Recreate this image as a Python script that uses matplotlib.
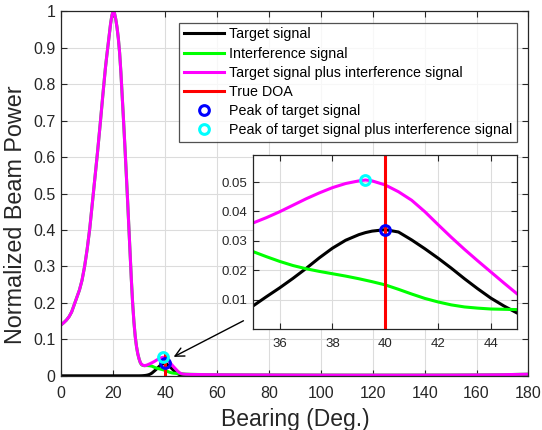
import matplotlib
matplotlib.use("Agg")
import matplotlib.pyplot as plt

plt.rcParams['font.family'] = ['Liberation Sans', 'DejaVu Sans']

# ---------------- data ----------------
bearing = [0, 1, 2, 3, 4, 5, 6, 7, 8, 9, 10, 11, 12, 13, 14, 15, 16, 17,
           17.5, 18, 18.5, 19, 19.5, 20,
           20.5, 21, 21.5, 22, 22.5, 23, 23.5, 24, 24.5, 25,
           25.5, 26, 26.5, 27, 27.5, 28, 28.5, 29, 29.5, 30,
           30.5, 31, 31.5, 32, 32.5, 33, 33.5, 34, 34.5,
           35, 35.5, 36, 36.5, 37, 37.5, 38, 38.5, 39, 39.25, 39.5, 40,
           40.5, 41, 41.5, 42, 42.5, 43, 43.5, 44, 44.5, 45,
           45.5, 46, 46.5, 47, 48,
           50, 55, 60,
           70, 80, 90, 100, 110, 120, 130, 140, 150, 160, 170, 180]

combined = [0.140, 0.146, 0.153, 0.162, 0.175, 0.195, 0.215, 0.235, 0.262, 0.300,
            0.348, 0.405, 0.475, 0.545, 0.615, 0.690, 0.768, 0.843,
            0.875, 0.905, 0.935, 0.965, 0.988, 1.000,
            0.995, 0.978, 0.955, 0.925, 0.885, 0.830, 0.765, 0.700, 0.632, 0.562,
            0.490, 0.415, 0.340, 0.265, 0.200, 0.148, 0.108, 0.080, 0.060, 0.046,
            0.036, 0.031, 0.029, 0.028, 0.0285, 0.0295, 0.031, 0.0325, 0.0343,
            0.0361, 0.0379, 0.0399, 0.0421, 0.0443, 0.0463, 0.0481, 0.0495, 0.0504, 0.0507, 0.0504, 0.0490,
            0.0467, 0.0438, 0.0399, 0.0355, 0.0312, 0.0271, 0.0232, 0.0194, 0.0156, 0.0119,
            0.0090, 0.0068, 0.0055, 0.0048, 0.0042,
            0.0038, 0.0033, 0.0030,
            0.0027, 0.0025, 0.0023, 0.0021, 0.0020, 0.0020, 0.0020, 0.0021, 0.0022, 0.0025, 0.0030, 0.0045]

interference = [0.140, 0.146, 0.153, 0.162, 0.175, 0.195, 0.215, 0.235, 0.262, 0.300,
                0.348, 0.405, 0.475, 0.545, 0.615, 0.690, 0.768, 0.843,
                0.875, 0.905, 0.935, 0.965, 0.988, 1.000,
                0.995, 0.978, 0.955, 0.925, 0.885, 0.830, 0.765, 0.700, 0.632, 0.562,
                0.490, 0.415, 0.340, 0.265, 0.200, 0.148, 0.108, 0.080, 0.060, 0.046,
                0.035, 0.030, 0.0285, 0.0278, 0.0280, 0.0282, 0.0280, 0.0276, 0.0270,
                0.0263, 0.0246, 0.0230, 0.0216, 0.0205, 0.0196, 0.0188, 0.0180, 0.0171, 0.0166, 0.0161, 0.0150,
                0.0135, 0.0119, 0.0104, 0.0092, 0.0082, 0.0075, 0.0071, 0.0068, 0.0067, 0.0066,
                0.0064, 0.0060, 0.0056, 0.0052, 0.0046,
                0.0040, 0.0034, 0.0030,
                0.0027, 0.0025, 0.0023, 0.0021, 0.0020, 0.0020, 0.0020, 0.0021, 0.0022, 0.0025, 0.0030, 0.0045]

target = [0.0, 0.0, 0.0, 0.0, 0.0, 0.0, 0.0, 0.0, 0.0, 0.0,
          0.0, 0.0, 0.0, 0.0, 0.0, 0.0, 0.0, 0.0,
          0.0, 0.0, 0.0, 0.0, 0.0, 0.0,
          0.0, 0.0, 0.0, 0.0, 0.0, 0.0, 0.0, 0.0, 0.0, 0.0,
          0.0, 0.0, 0.0, 0.0, 0.0, 0.0, 0.0, 0.0, 0.0, 0.0,
          0.0001, 0.0002, 0.0004, 0.0007, 0.0011, 0.0017, 0.0026, 0.0038, 0.0056,
          0.0079, 0.0110, 0.0140, 0.0172, 0.0206, 0.0242, 0.0275, 0.0302, 0.0321, 0.0328, 0.0333, 0.0338,
          0.0330, 0.0303, 0.0273, 0.0241, 0.0207, 0.0171, 0.0137, 0.0105, 0.0078, 0.0054,
          0.0035, 0.0022, 0.0013, 0.0008, 0.0003,
          0.0001, 0.0, 0.0,
          0.0, 0.0, 0.0, 0.0, 0.0, 0.0, 0.0, 0.0, 0.0, 0.0, 0.0, 0.0]

true_doa = 40
doa_span = [0, 0.06]
target_peak = (40.0, 0.0338)
combined_peak = (39.25, 0.0507)

labels = ['Target signal', 'Interference signal',
          'Target signal plus interference signal', 'True DOA',
          'Peak of target signal', 'Peak of target signal plus interference signal']

main_xticks = [0, 20, 40, 60, 80, 100, 120, 140, 160, 180]
main_yticks = [0, 0.1, 0.2, 0.3, 0.4, 0.5, 0.6, 0.7, 0.8, 0.9, 1]
main_ytick_labels = ['0', '0.1', '0.2', '0.3', '0.4', '0.5', '0.6', '0.7', '0.8', '0.9', '1']
inset_xticks = [36, 38, 40, 42, 44]
inset_yticks = [0.01, 0.02, 0.03, 0.04, 0.05]

# ---------------- style ----------------
AX_COL = '#262626'
LW = 2.2


def draw(ax):
    h1, = ax.plot(bearing, target, color='black', lw=LW, label=labels[0])
    h2, = ax.plot(bearing, interference, color='#00ff00', lw=LW, label=labels[1])
    h3, = ax.plot(bearing, combined, color='#ff00ff', lw=LW, label=labels[2])
    h4, = ax.plot([true_doa, true_doa], doa_span, color='#ff0000', lw=LW, label=labels[3])
    h5, = ax.plot([target_peak[0]], [target_peak[1]], 'o', ms=7, mfc='none',
                  mec='#0000ff', mew=2.2, label=labels[4])
    h6, = ax.plot([combined_peak[0]], [combined_peak[1]], 'o', ms=7, mfc='none',
                  mec='#00ffff', mew=2.2, label=labels[5])
    return [h1, h2, h3, h4, h5, h6]


def style(ax, fs, xpad, ypad):
    for s in ax.spines.values():
        s.set_color(AX_COL)
        s.set_linewidth(0.9)
    ax.tick_params(direction='in', top=True, right=True, colors=AX_COL,
                   labelsize=fs, length=4, width=0.8, labelcolor=AX_COL)
    ax.tick_params(axis='x', pad=xpad)
    ax.tick_params(axis='y', pad=ypad)
    ax.grid(True, color='#dcdcdc', lw=0.8)
    ax.set_axisbelow(True)


fig = plt.figure(figsize=(5.42, 4.30), dpi=100)
ax = fig.add_axes([0.113, 0.126, 0.862, 0.848])
handles = draw(ax)
ax.set_xlim(0, 180)
ax.set_ylim(0, 1)
ax.set_xticks(main_xticks)
ax.set_yticks(main_yticks)
ax.set_yticklabels(main_ytick_labels)
style(ax, 11.5, 7.5, 4)
ax.set_xlabel('Bearing (Deg.)', fontsize=16.5, color=AX_COL, labelpad=5)
ax.set_ylabel('Normalized Beam Power', fontsize=16.8, color=AX_COL)
ax.yaxis.set_label_coords(-0.073, 0.443)

leg = ax.legend(handles=handles, loc='upper right', bbox_to_anchor=(0.976, 0.968),
                fontsize=10.3, frameon=True, fancybox=False, edgecolor=AX_COL,
                handlelength=2.85, handletextpad=0.35, labelspacing=0.36,
                borderpad=0.32, borderaxespad=0.0, numpoints=1)
leg.get_frame().set_linewidth(0.9)

ax.annotate('', xy=(43.3, 0.052), xytext=(70.2, 0.151),
            arrowprops=dict(arrowstyle='->', color='black', lw=1.0,
                            mutation_scale=16, shrinkA=0, shrinkB=0))

ins = fig.add_axes([0.4673, 0.2349, 0.4871, 0.4053])
ins.set_facecolor('white')
draw(ins)
ins.set_xlim(35, 45)
ins.set_ylim(0, 0.0593)
ins.set_xticks(inset_xticks)
ins.set_yticks(inset_yticks)
style(ins, 9.5, 6.5, 4)

fig.savefig('out.png', dpi=100)
